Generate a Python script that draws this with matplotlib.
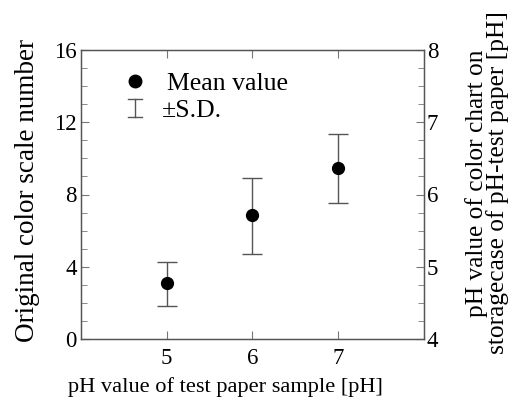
import matplotlib
matplotlib.use("Agg")
import matplotlib.pyplot as plt
from matplotlib.ticker import MultipleLocator

plt.rcParams['font.family'] = ['Liberation Serif', 'DejaVu Serif']

ph_sample = [5, 6, 7]
mean_values = [3.09, 6.88, 9.48]
sd_lower = [1.82, 4.72, 7.54]
sd_upper = [4.29, 8.93, 11.37]

fig = plt.figure(figsize=(5.16, 4.03), dpi=100)
ax = fig.add_axes([81/516, 1-339/403, (424-81)/516, (339-50)/403])

yerr = [[m - lo for m, lo in zip(mean_values, sd_lower)],
        [hi - m for m, hi in zip(mean_values, sd_upper)]]
ax.errorbar(ph_sample, mean_values, yerr=yerr, fmt='o', color='black',
            ms=8.5, ecolor='#555555', elinewidth=1.0, capsize=7, capthick=1.0, zorder=3)

ax.set_xlim(4, 8)
ax.set_ylim(0, 16)
ax.set_xticks([5, 6, 7])
ax.yaxis.set_major_locator(MultipleLocator(4))
ax.yaxis.set_minor_locator(MultipleLocator(1))
for s in ax.spines.values():
    s.set_color('#555555')
    s.set_linewidth(1.0)
ax.tick_params(axis='x', which='major', direction='in', length=6, color='#777777',
               labelsize=16.5, top=True, pad=6.5)
ax.tick_params(axis='y', which='major', direction='in', length=6, color='#777777',
               labelsize=16.5, pad=3)
ax.tick_params(axis='y', which='minor', direction='in', length=4, color='#777777')
ax.set_xlabel('pH value of test paper sample [pH]', fontsize=16.1, labelpad=6)
ax.xaxis.label.set_x(0.421)
ax.set_ylabel('Original color scale number', fontsize=19.5, labelpad=10)
ax.yaxis.label.set_y(0.515)

ax2 = ax.twinx()
ax2.set_ylim(4, 8)
ax2.yaxis.set_major_locator(MultipleLocator(1))
ax2.yaxis.set_minor_locator(MultipleLocator(0.25))
ax2.tick_params(axis='y', which='major', direction='in', length=6, color='#777777',
                labelsize=16.5, pad=2)
ax2.tick_params(axis='y', which='minor', direction='in', length=4, color='#777777')
for s in ax2.spines.values():
    s.set_color('#555555')
ax2.set_ylabel('pH value of color chart on\nstoragecase of pH-test paper [pH]',
               fontsize=18.3, linespacing=0.9, labelpad=19)
ax2.yaxis.label.set_y(0.54)

# legend drawn manually
tr = ax.transAxes
def ax_x(px):
    return (px - 81) / 343
def ax_y(py):
    return (339 - py) / 289
ax.plot([ax_x(135)], [ax_y(81)], 'o', color='black', ms=9, transform=tr, clip_on=False)
ax.text(ax_x(167), ax_y(84), 'Mean value', transform=tr, fontsize=18.5, va='center', ha='left')
lx = ax_x(135)
y0, y1 = ax_y(117), ax_y(99)
cw = 7 / 343
ax.plot([lx, lx], [y0, y1], color='#555555', lw=1.0, transform=tr)
ax.plot([lx - cw, lx + cw], [y0, y0], color='#555555', lw=1.0, transform=tr)
ax.plot([lx - cw, lx + cw], [y1, y1], color='#555555', lw=1.0, transform=tr)
ax.text(ax_x(162), ax_y(111), '±S.D.', transform=tr, fontsize=18.5, va='center', ha='left')

fig.savefig('out.png', dpi=100)
